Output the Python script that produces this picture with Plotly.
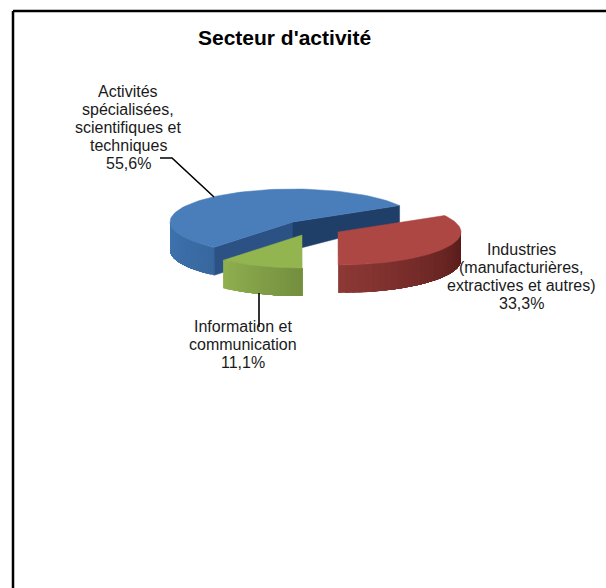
import numpy as np
import plotly.graph_objects as go

categories = [["Activités", "spécialisées,", "scientifiques et", "techniques"],
              ["Industries", "(manufacturières,", "extractives et autres)"],
              ["Information et", "communication"]]
shares = [55.6, 33.3, 11.1]
share_labels = ["55,6%", "33,3%", "11,1%"]
title_text = "Secteur d'activité"

W, H = 606, 588
A, B = 123.0, 33.0
START = 230.1              # parametric angle of the first slice, runs clockwise
apex = [(293, 222), (338, 232), (302, 235)]
depths = [28, 28, 28]
FAR_CUT_DEPTH = 17         # far end of the blue slice's right cut wall (perspective)
top_cols = ["#4a7ebb", "#ad4743", "#93b550"]
wall_grad = [("#3f74b0", "#38689f"), ("#8c3835", "#561b19"), ("#8fae4f", "#74903f")]
cut_cols = ["#2b5185", "#1f3f69"]
FONT = "Liberation Sans, Arial, sans-serif"
LINE_H = 18.2


def mix(c1, c2, t):
    a = [int(c1[i:i + 2], 16) for i in (1, 3, 5)]
    b = [int(c2[i:i + 2], 16) for i in (1, 3, 5)]
    return "rgb(%d,%d,%d)" % tuple(round(x + (y - x) * t) for x, y in zip(a, b))


def pt(c, deg):
    r = np.radians(deg)
    return c[0] + A * np.cos(r), c[1] - B * np.sin(r)


def poly(fig, xs, ys, color, width=0.5):
    fig.add_trace(go.Scatter(x=list(xs), y=list(ys), mode="lines", fill="toself",
                             fillcolor=color, line=dict(color=color, width=width),
                             hoverinfo="skip", showlegend=False))


def top_face(fig, c, a0, a1, color):
    t = np.linspace(a0, a1, 80)
    xs, ys = pt(c, t)
    poly(fig, [c[0], *xs, c[0]], [c[1], *ys, c[1]], color)


def outer_wall(fig, c, a0, a1, d, c0, c1, n=28):
    # painter's order: every strip runs to the end of the wall, so no seams show
    edges = np.linspace(a0, a1, n + 1)
    for i in range(n):
        t = np.linspace(edges[i], a1, 40)
        xs, ys = pt(c, t)
        poly(fig, [*xs, *xs[::-1], xs[0]], [*ys, *(ys[::-1] + d), ys[0]],
             mix(c0, c1, i / (n - 1)), width=0)


fig = go.Figure()

spans = [s / sum(shares) * 360 for s in shares]
bounds = [START]
for s in spans:
    bounds.append(bounds[-1] - s)

# blue slice: walls first, then its top
c = apex[0]
d = depths[0]
a0, a1 = bounds[0], bounds[1]
outer_wall(fig, c, a0, 180, d, wall_grad[0][1], wall_grad[0][0])
for ang, col, end_d in ((a0, cut_cols[0], d), (a1, cut_cols[1], FAR_CUT_DEPTH)):
    x, y = pt(c, ang)
    poly(fig, [c[0], x, x, c[0], c[0]], [c[1], y, y + end_d, c[1] + d, c[1]], col)
top_face(fig, c, a0, a1, top_cols[0])

# red slice
c = apex[1]
a0, a1 = bounds[1], bounds[2]
outer_wall(fig, c, a1, 0, depths[1], wall_grad[1][0], wall_grad[1][1])
top_face(fig, c, a0, a1, top_cols[1])

# green slice
c = apex[2]
a0, a1 = bounds[2], bounds[3]
outer_wall(fig, c, a1, a0, depths[2], wall_grad[2][0], wall_grad[2][1])
top_face(fig, c, a0, a1, top_cols[2])

# leader lines
line = dict(color="black", width=1.6)
fig.add_trace(go.Scatter(x=[160, 172, 214], y=[158, 158, 197], mode="lines", line=line,
                         hoverinfo="skip", showlegend=False))
fig.add_trace(go.Scatter(x=[259, 259], y=[293, 327], mode="lines", line=line,
                         hoverinfo="skip", showlegend=False))

# texts: one annotation per line so the leading stays tighter than plotly's default
first_line = [(128, 91), (521, 249), (243, 326)]
for cat, lab, (x, y0) in zip(categories, share_labels, first_line):
    for i, txt in enumerate([*cat, lab]):
        fig.add_annotation(x=x, y=y0 + i * LINE_H, text=txt, showarrow=False,
                           xanchor="center", yanchor="middle",
                           font=dict(family=FONT, size=16, color="#1a1a1a"))
fig.add_annotation(x=284, y=37, text=f"<b>{title_text}</b>", showarrow=False,
                   xanchor="center", yanchor="middle",
                   font=dict(family=FONT, size=21, color="black"))

# open frame: top and left edges only
frame = dict(color="black", width=2.5)
fig.add_shape(type="line", x0=13, x1=606, y0=11, y1=11, line=frame)
fig.add_shape(type="line", x0=13, x1=13, y0=11, y1=588, line=frame)

fig.update_layout(width=W, height=H, margin=dict(l=0, r=0, t=0, b=0),
                  paper_bgcolor="white", plot_bgcolor="white", showlegend=False,
                  xaxis=dict(range=[0, W], visible=False, fixedrange=True),
                  yaxis=dict(range=[H, 0], visible=False, fixedrange=True))
fig.write_html("out.html", config=dict(displayModeBar=False),
               post_script="document.body.style.margin='0';document.body.style.overflow='hidden';")
